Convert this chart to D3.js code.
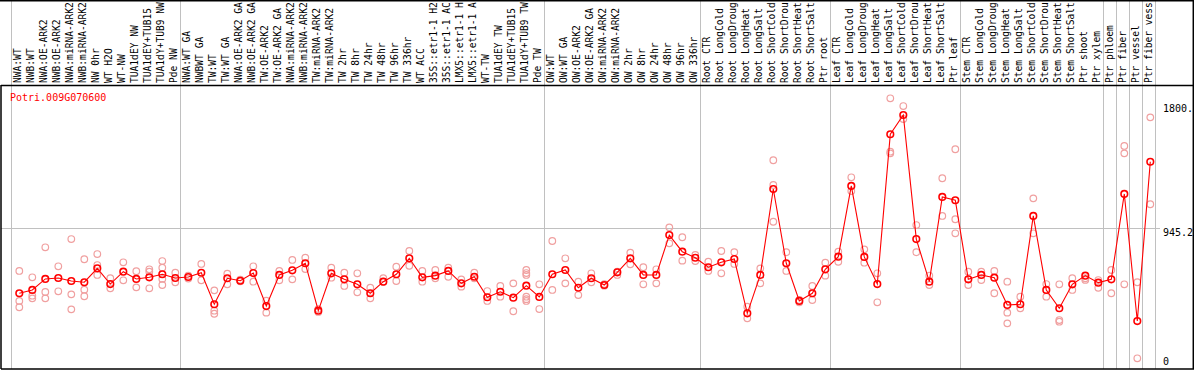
<!DOCTYPE html>
<html>
<head>
<meta charset="utf-8">
<script src="https://cdn.jsdelivr.net/npm/d3@7"></script>
<style>
  body { margin: 0; background: #fff; }
  svg { display: block; }
</style>
</head>
<body>
<script>
var geneName = "Potri.009G070600";

var conditions = [
    "NWA:WT", "NWB:WT", "NWA:OE-ARK2", "NWB:OE-ARK2", "NWA:miRNA-ARK2", "NWB:miRNA-ARK2",
    "NW 0hr", "WT H2O", "WT-NW", "TUA1dEY NW", "TUA1dEY+TUB15", "TUA1dY+TUB9 NW", "Pde NW",
    "NWA:WT GA", "NWBWT GA", "TW:WT", "TW:WT GA", "NWA:OE-ARK2 GA", "NWB:OE-ARK2 GA",
    "TW:OE-ARK2", "TW:OE-ARK2 GA", "NWA:miRNA-ARK2", "NWB:miRNA-ARK2", "TW:miRNA-ARK2",
    "TW:miRNA-ARK2", "TW 2hr", "TW 8hr", "TW 24hr", "TW 48hr", "TW 96hr", "TW 336hr",
    "WT ACC", "35S::etr1-1 H2", "35S::etr1-1 AC", "LMX5::etr1-1 H", "LMX5::etr1-1 A",
    "WT-TW", "TUA1dEY TW", "TUA1dEY+TUB15", "TUA1dY+TUB9 TW", "Pde TW",
    "OW:WT", "OW:WT GA", "OW:OE-ARK2", "OW:OE-ARK2 GA", "OW:miRNA-ARK2", "OW:miRNA-ARK2",
    "OW 2hr", "OW 8hr", "OW 24hr", "OW 48hr", "OW 96hr", "OW 336hr",
    "Root CTR", "Root LongCold", "Root LongDroug", "Root LongHeat", "Root LongSalt",
    "Root ShortCold", "Root ShortDrou", "Root ShortHeat", "Root ShortSalt", "Ptr root",
    "Leaf CTR", "Leaf LongCold", "Leaf LongDroug", "Leaf LongHeat", "Leaf LongSalt",
    "Leaf ShortCold", "Leaf ShortDrou", "Leaf ShortHeat", "Leaf ShortSalt", "Ptr leaf",
    "Stem CTR", "Stem LongCold", "Stem LongDroug", "Stem LongHeat", "Stem LongSalt",
    "Stem ShortCold", "Stem ShortDrou", "Stem ShortHeat", "Stem ShortSalt", "Ptr shoot",
    "Ptr xylem", "Ptr phloem", "Ptr fiber", "Ptr vessel", "Ptr fiber vess"
];

// mean expression per condition
var means = [
    473, 497, 577, 584, 562, 553, 654, 540, 630, 577, 589, 611, 584,
    591, 622, 393, 582, 564, 620, 380, 606, 640, 691, 346, 618, 574, 538, 473,
    557, 611, 727, 589, 601, 635, 545, 593, 444, 484, 441, 528, 446,
    611, 642, 513, 582, 533, 625, 727, 606, 606, 896, 775, 731,
    662, 698, 722, 327, 606, 1231, 691, 417, 473, 647,
    739, 1253, 737, 540, 1629, 1769, 867, 557, 1173, 1149,
    574, 606, 586, 388, 393, 1035, 497, 364, 538, 601,
    550, 574, 1195, 271, 1429
];

// individual replicates per condition
var replicates = [
    [635, 417, 371], [589, 455, 436], [807, 482, 436], [669, 487], [867, 465, 356],
    [720, 499, 451], [758, 678, 606], [582, 509], [698, 567], [633, 516],
    [647, 630, 509], [707, 659, 577, 533], [622, 553],
    [601, 580], [686, 567], [494, 346, 324], [615, 538], [571, 560], [669, 557],
    [419, 332], [635, 567], [715, 574], [731, 649], [358, 337], [659, 586],
    [622, 526], [618, 480], [513, 436], [582, 557], [666, 562], [780, 673],
    [635, 557], [642, 582], [659, 593], [574, 521], [622, 582], [489, 417],
    [526, 448], [545, 342], [642, 620, 606, 448, 430, 417], [538, 358],
    [853, 497], [727, 545], [557, 460], [618, 553], [540, 528], [606, 630],
    [768, 683], [662, 538], [647, 545], [952, 836], [880, 710], [751, 707],
    [702, 635], [780, 618], [771, 686], [375, 291], [654, 545], [1440, 1260, 993],
    [771, 635], [424, 407], [526, 424], [695, 601],
    [775, 702], [1316, 1216], [792, 695], [618, 407], [1890.4, 1502, 1490],
    [1834, 1740], [969, 771], [601, 533], [1309, 1035], [1520, 1011, 909],
    [630, 533], [630, 569], [635, 473], [557, 332, 254], [448, 364],
    [1163, 909], [540, 448], [538, 278, 266], [582, 497], [582, 570],
    [569, 513], [642, 473], [1544, 1490, 538], [553, 0], [1752, 1120]
];

// indices where a group separator line is drawn
var separators = [0, 13, 41, 53, 63, 73, 84, 85, 86, 87, 88];
var yMax = 1890.4;
var yTicks = [0, yMax / 2, yMax];
var yTickText = ["0", "945.2", "1800."];

function main() {
    var width = 1194, height = 370;
    var plotTop = 85, plotBottom = 369;

    var svg = d3.select("body").append("svg")
        .attr("width", width).attr("height", height);

    var x = d3.scaleBand()
        .domain(d3.range(conditions.length))
        .range([12.8, 12.8 + 13 * conditions.length]);
    var cx = function(i) { return x(i) + x.bandwidth() / 2; };

    var y = d3.scaleLinear()
        .domain([0, yMax])
        .range([358.3, 98.3]);

    var sepX = function(k) {
        var v = (k < conditions.length ? x(k) : x.range()[1]) - 1.5;
        return Math.floor(v) + 0.5;
    };

    // gridline at middle
    svg.append("line")
        .attr("x1", 1).attr("x2", 1160)
        .attr("y1", Math.floor(y(yTicks[1])) + 0.5).attr("y2", Math.floor(y(yTicks[1])) + 0.5)
        .attr("stroke", "#c0c0c0").attr("stroke-width", 1);

    // separators
    svg.selectAll("line.sep")
        .data(separators)
        .enter()
        .append("line")
        .attr("class", "sep")
        .attr("x1", sepX).attr("x2", sepX)
        .attr("y1", 0).attr("y2", plotBottom)
        .attr("stroke", "#c0c0c0").attr("stroke-width", 1);

    // frame
    var frame = svg.append("g").attr("stroke", "#000").attr("stroke-width", 1.5).attr("fill", "none");
    frame.append("line").attr("x1", 0).attr("x2", width).attr("y1", 0.75).attr("y2", 0.75);
    frame.append("line").attr("x1", 1).attr("x2", width).attr("y1", plotTop + 0.5).attr("y2", plotTop + 0.5);
    frame.append("line").attr("x1", 1).attr("x2", width).attr("y1", plotBottom).attr("y2", plotBottom);
    frame.append("line").attr("x1", 1).attr("x2", 1).attr("y1", plotTop).attr("y2", plotBottom);
    frame.append("line").attr("x1", 1193.3).attr("x2", 1193.3).attr("y1", 0).attr("y2", plotBottom);

    // condition labels (vertical)
    svg.append("g")
        .selectAll("text")
        .data(conditions)
        .enter()
        .append("text")
        .text(function(d) { return d; })
        .attr("transform", function(d, i) {
            return "translate(" + (cx(i) + 2) + "," + 83 + ") rotate(-90)";
        })
        .attr("font-family", "DejaVu Sans Mono, monospace")
        .attr("font-size", "9.6px")
        .attr("fill", "#000");

    // gene title
    svg.append("text")
        .text(geneName)
        .attr("x", 10).attr("y", 100.5)
        .attr("font-family", "DejaVu Sans Mono, monospace")
        .attr("font-size", "10px")
        .attr("fill", "red");

    // y labels
    var labelY = [365, 235.5, 111.5];
    svg.selectAll("text.ytick")
        .data(yTicks)
        .enter()
        .append("text")
        .attr("class", "ytick")
        .text(function(d, i) { return yTickText[i]; })
        .attr("x", 1163)
        .attr("y", function(d, i) { return labelY[i]; })
        .attr("font-family", "DejaVu Sans Mono, monospace")
        .attr("font-size", "10px")
        .attr("fill", "#000");

    // replicate points
    var reps = [];
    replicates.forEach(function(r, i) {
        r.forEach(function(v) { reps.push({ i: i, v: v }); });
    });
    svg.append("g")
        .selectAll("circle")
        .data(reps)
        .enter()
        .append("circle")
        .attr("cx", function(d) { return cx(d.i); })
        .attr("cy", function(d) { return y(d.v); })
        .attr("r", 3.3)
        .attr("fill", "none")
        .attr("stroke", "#f0a0a0")
        .attr("stroke-width", 1.2);

    // mean line
    var line = d3.line()
        .x(function(d, i) { return cx(i); })
        .y(function(d) { return y(d); });
    svg.append("path")
        .datum(means)
        .attr("d", line)
        .attr("fill", "none")
        .attr("stroke", "red")
        .attr("stroke-width", 1.1);

    svg.append("g")
        .selectAll("circle")
        .data(means)
        .enter()
        .append("circle")
        .attr("cx", function(d, i) { return cx(i); })
        .attr("cy", function(d) { return y(d); })
        .attr("r", 3.3)
        .attr("fill", "none")
        .attr("stroke", "red")
        .attr("stroke-width", 1.6);
}

window.onload = main;
</script>
</body>
</html>
